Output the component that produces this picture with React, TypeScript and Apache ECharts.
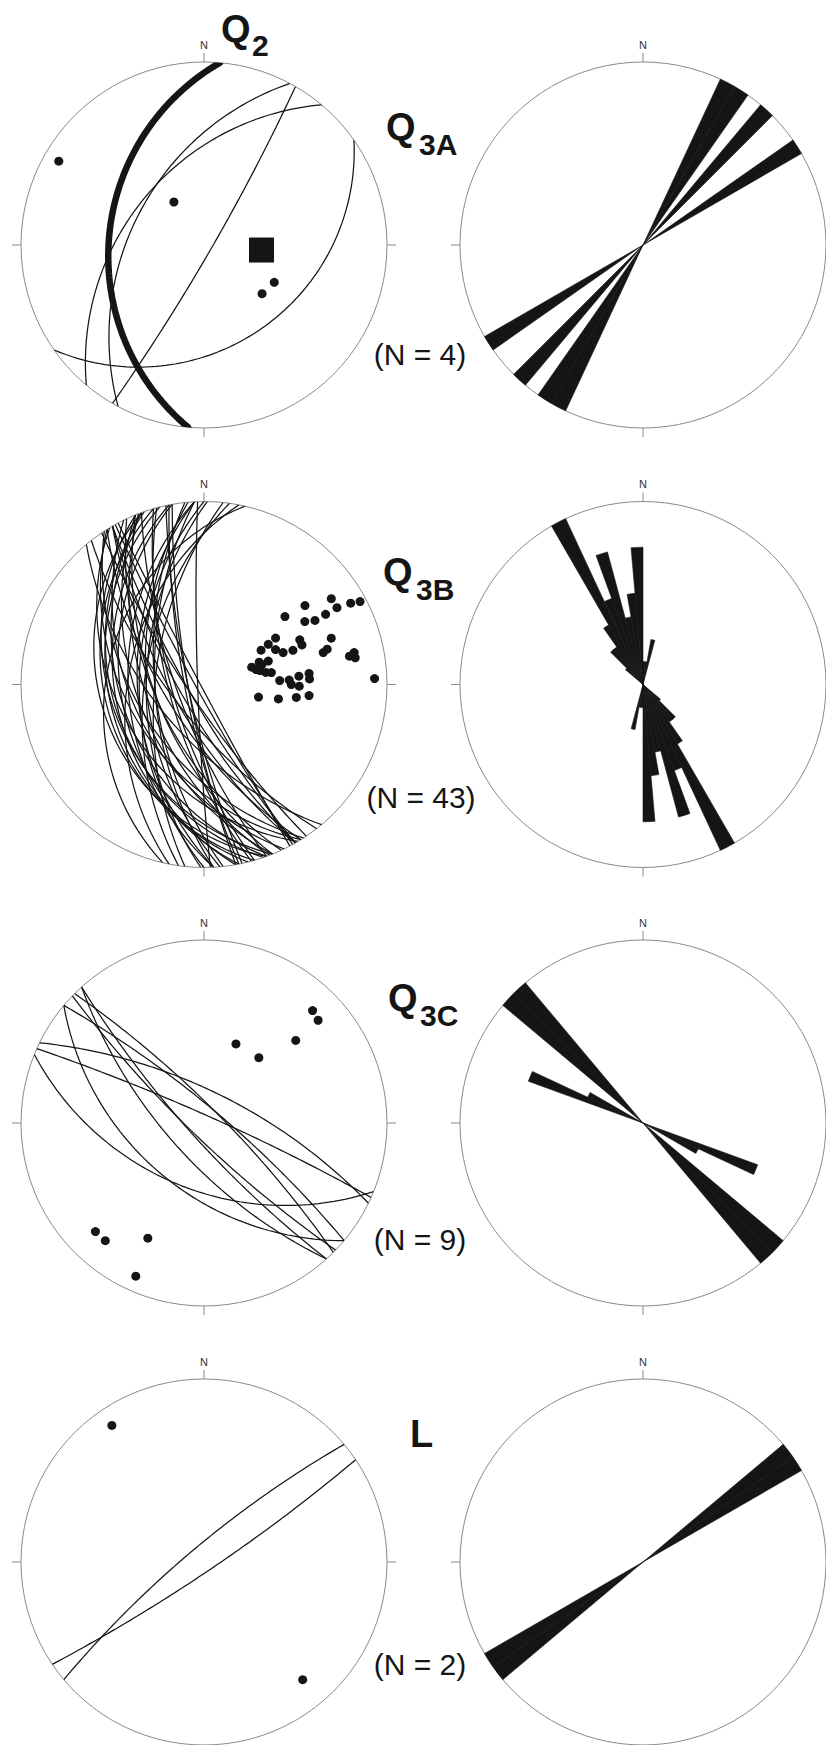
import React, { useEffect, useRef } from "react";
import * as echarts from "echarts";

// ---- Data -------------------------------------------------------------
// Poles to planes, lower hemisphere: [trend, plunge] in degrees.
const Q2_MEAN_POLE: number[][] = [[95, 55]];
const Q3A_POLES: number[][] = [
  [300, 5], [325, 58], [118, 43], [130, 45],
];
const Q3B_POLES: number[][] = [
  [56, 10], [60, 10], [52, 20], [61, 5], [62, 2], [50, 30], [60, 15], [60, 20],
  [58, 24], [57, 40], [70, 17], [65, 30], [68, 30], [58, 45], [59, 50], [64, 43],
  [68, 40], [69, 35], [74, 20], [75, 22], [78, 10], [79, 12], [80, 10], [70, 59],
  [68, 54], [70, 49], [76, 55], [79, 52], [80, 49], [74, 57], [87, 45], [87, 40],
  [91, 35], [85, 35], [84, 30], [88, 4], [103, 56], [101, 45], [98, 36], [96, 30],
  [90, 39], [87, 30], [71, 53],
];
const Q3C_POLES: number[][] = [
  [22, 40], [40, 40], [48, 22], [44, 9], [48, 10],
  [225, 10], [220, 10], [206, 20], [204, 5],
];
const L_POLES: number[][] = [[326, 6], [140, 10]];

// Rose diagrams of strikes: 5-degree bins (start azimuth) and counts.
const ROSE_BIN = 5;
const Q3A_ROSE_BINS = [25, 30, 40, 55];
const Q3A_ROSE_COUNTS = [1, 1, 1, 1];
const Q3B_ROSE_BINS = [310, 315, 320, 325, 330, 335, 340, 345, 350, 355, 0, 5, 10];
const Q3B_ROSE_COUNTS = [1, 2, 2, 3, 8, 4, 6, 3, 4, 6, 1, 1, 2];
const Q3C_ROSE_BINS = [290, 295, 310, 315];
const Q3C_ROSE_COUNTS = [2, 1, 3, 3];
const L_ROSE_BINS = [50, 55];
const L_ROSE_COUNTS = [1, 1];

const SET_LABELS = [
  { main: "Q", sub: "2" },
  { main: "Q", sub: "3A" },
  { main: "Q", sub: "3B" },
  { main: "Q", sub: "3C" },
  { main: "L", sub: "" },
];
const COUNT_LABELS = ["(N = 4)", "(N = 43)", "(N = 9)", "(N = 2)"];

// ---- Layout -----------------------------------------------------------
const WIDTH = 826;
const HEIGHT = 1745;
const RADIUS = 183;
const COL_X = [204, 643];
const ROW_Y = [245, 684.5, 1123, 1562];
const FONT = '"Liberation Sans", Arial, Helvetica, sans-serif';
const INK = "#151515";
const FRAME = "#8a8a8a";

// positions of the set labels and counts
const SET_LABEL_POS = [
  { x: 221, y: 29, sx: 252, sy: 45 },
  { x: 386, y: 127, sx: 419, sy: 144 },
  { x: 383, y: 572, sx: 416, sy: 589 },
  { x: 388, y: 998, sx: 420, sy: 1015 },
  { x: 410, y: 1434, sx: 0, sy: 0 },
];
const COUNT_POS = [
  { x: 420, y: 354 },
  { x: 421, y: 797 },
  { x: 420, y: 1239 },
  { x: 420, y: 1664 },
];

// ---- Geometry helpers --------------------------------------------------
const rad = (d: number) => (d * Math.PI) / 180;
const deg = (r: number) => (r * 180) / Math.PI;

// Equal-angle (Wulff) projection: normalised distance from centre.
const wulff = (plunge: number) => Math.tan(rad((90 - plunge) / 2));

const polePoints = (poles: number[][]) => poles.map(([t, p]) => [wulff(p), t]);

// Great circle of the plane whose pole is [trend, plunge], as [r, azimuth].
function greatCircle(pole: number[]) {
  const [trend, plunge] = pole;
  const dipDir = trend + 180;
  const dip = 90 - plunge;
  const strike = dipDir - 90;
  const s = [Math.sin(rad(strike)), Math.cos(rad(strike)), 0];
  const d = [
    Math.cos(rad(dip)) * Math.sin(rad(dipDir)),
    Math.cos(rad(dip)) * Math.cos(rad(dipDir)),
    Math.sin(rad(dip)),
  ];
  const pts: number[][] = [];
  for (let a = 0; a <= 180; a += 2) {
    const c = Math.cos(rad(a));
    const sn = Math.sin(rad(a));
    const e = c * s[0] + sn * d[0];
    const n = c * s[1] + sn * d[1];
    const z = c * s[2] + sn * d[2];
    const pl = deg(Math.asin(Math.max(-1, Math.min(1, z))));
    let tr = deg(Math.atan2(e, n));
    if (tr < 0) tr += 360;
    pts.push([wulff(pl), tr]);
  }
  return pts;
}

// Bidirectional rose: every strike also counted at strike + 180.
const ROSE_CATEGORIES = Array.from({ length: 360 / ROSE_BIN }, (_, i) => String(i * ROSE_BIN));
function roseData(bins: number[], counts: number[]) {
  const arr = new Array(360 / ROSE_BIN).fill(0);
  bins.forEach((b, i) => {
    arr[b / ROSE_BIN] += counts[i];
    arr[((b + 180) % 360) / ROSE_BIN] += counts[i];
  });
  return arr;
}

const ROWS = [
  { poles: Q3A_POLES, mean: Q2_MEAN_POLE, rose: roseData(Q3A_ROSE_BINS, Q3A_ROSE_COUNTS) },
  { poles: Q3B_POLES, mean: [] as number[][], rose: roseData(Q3B_ROSE_BINS, Q3B_ROSE_COUNTS) },
  { poles: Q3C_POLES, mean: [] as number[][], rose: roseData(Q3C_ROSE_BINS, Q3C_ROSE_COUNTS) },
  { poles: L_POLES, mean: [] as number[][], rose: roseData(L_ROSE_BINS, L_ROSE_COUNTS) },
];

function buildOption() {
  const polar: any[] = [];
  const angleAxis: any[] = [];
  const radiusAxis: any[] = [];
  const series: any[] = [];

  // net frames: primitive circle, cardinal ticks and the N label
  ROW_Y.forEach((cy) => {
    COL_X.forEach((cx) => {
      const idx = polar.length;
      polar.push({ center: [cx, cy], radius: RADIUS });
      angleAxis.push({
        polarIndex: idx,
        type: "value",
        min: 0,
        max: 360,
        interval: 90,
        startAngle: 90,
        clockwise: true,
        axisLine: { show: true, lineStyle: { color: FRAME, width: 1 } },
        axisTick: { show: true, inside: false, length: 9, lineStyle: { color: FRAME, width: 1 } },
        axisLabel: {
          show: true,
          margin: 12,
          fontSize: 11,
          fontFamily: FONT,
          color: "#333",
          formatter: (v: number) => (v === 0 ? "N" : ""),
        },
        splitLine: { show: false },
        splitArea: { show: false },
      });
      radiusAxis.push({ polarIndex: idx, type: "value", min: 0, max: 1, show: false });
    });
  });

  // rose diagram coordinate systems share the right-hand frames
  ROWS.forEach((row, r) => {
    const idx = polar.length;
    polar.push({ center: [COL_X[1], ROW_Y[r]], radius: RADIUS });
    angleAxis.push({
      polarIndex: idx,
      type: "category",
      data: ROSE_CATEGORIES,
      startAngle: 90,
      clockwise: true,
      show: false,
    });
    radiusAxis.push({
      polarIndex: idx,
      type: "value",
      min: 0,
      max: Math.max(...row.rose),
      show: false,
    });
    series.push({
      type: "bar",
      coordinateSystem: "polar",
      polarIndex: idx,
      data: row.rose,
      barCategoryGap: "0%",
      itemStyle: { color: INK, opacity: 1, borderColor: INK, borderWidth: 0.6 },
      silent: true,
    });
  });

  // stereonets
  ROWS.forEach((row, r) => {
    const idx = r * 2;
    row.poles.forEach((p) => {
      series.push({
        type: "line",
        coordinateSystem: "polar",
        polarIndex: idx,
        data: greatCircle(p),
        showSymbol: false,
        lineStyle: { color: INK, width: 1.25 },
        silent: true,
        z: 3,
      });
    });
    row.mean.forEach((p) => {
      series.push({
        type: "line",
        coordinateSystem: "polar",
        polarIndex: idx,
        data: greatCircle(p),
        showSymbol: false,
        lineStyle: { color: INK, width: 6.5, cap: "round" },
        silent: true,
        z: 4,
      });
    });
    series.push({
      type: "scatter",
      coordinateSystem: "polar",
      polarIndex: idx,
      data: polePoints(row.poles),
      symbol: "circle",
      symbolSize: 9,
      itemStyle: { color: INK, opacity: 1 },
      silent: true,
      z: 5,
    });
    if (row.mean.length) {
      series.push({
        type: "scatter",
        coordinateSystem: "polar",
        polarIndex: idx,
        data: polePoints(row.mean),
        symbol: "rect",
        symbolSize: 25,
        itemStyle: { color: INK, opacity: 1 },
        silent: true,
        z: 5,
      });
    }
  });

  const graphic: any[] = [];
  SET_LABELS.forEach((lab, i) => {
    const pos = SET_LABEL_POS[i];
    graphic.push({
      type: "text",
      x: pos.x,
      y: pos.y,
      style: {
        text: lab.main,
        fill: INK,
        font: `bold 38px ${FONT}`,
        align: "left",
        verticalAlign: "middle",
        textAlign: "left",
        textVerticalAlign: "middle",
      },
    });
    if (lab.sub) {
      graphic.push({
        type: "text",
        x: pos.sx,
        y: pos.sy,
        style: {
          text: lab.sub,
          fill: INK,
          font: `bold 30px ${FONT}`,
          align: "left",
          verticalAlign: "middle",
          textAlign: "left",
          textVerticalAlign: "middle",
        },
      });
    }
  });
  COUNT_LABELS.forEach((t, i) => {
    graphic.push({
      type: "text",
      x: COUNT_POS[i].x,
      y: COUNT_POS[i].y,
      style: {
        text: t,
        fill: INK,
        font: `30px ${FONT}`,
        align: "center",
        verticalAlign: "middle",
        textAlign: "center",
        textVerticalAlign: "middle",
      },
    });
  });

  return {
    animation: false,
    backgroundColor: "#ffffff",
    polar,
    angleAxis,
    radiusAxis,
    series,
    graphic,
  };
}

export default function App() {
  const ref = useRef<HTMLDivElement>(null);
  useEffect(() => {
    if (!ref.current) return;
    const chart = echarts.init(ref.current, null, { renderer: "svg" });
    chart.setOption(buildOption());
    return () => chart.dispose();
  }, []);
  return (
    <div
      ref={ref}
      style={{ position: "absolute", left: 0, top: 0, width: WIDTH, height: HEIGHT, background: "#fff" }}
    />
  );
}
